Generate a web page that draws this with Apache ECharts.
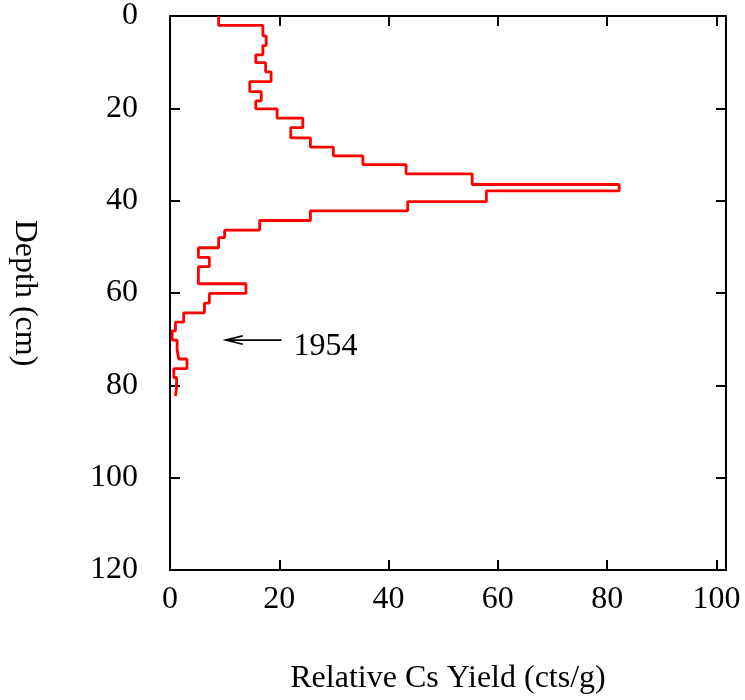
<!DOCTYPE html>
<html>
<head>
<meta charset="utf-8">
<script src="https://cdn.jsdelivr.net/npm/echarts@6/dist/echarts.min.js"></script>
<style>html,body{margin:0;padding:0;background:#fff}#c{width:745px;height:700px}</style>
</head>
<body>
<div id="c"></div>
<script>
// Depth boundaries of each sample interval (cm)
const depthEdges = [0, 2.05, 4.3, 6.4, 8.4, 10.1, 12.1, 14.2, 16.4, 18.4, 20.1, 22.1, 24.2, 26.4, 28.4, 30.3, 32.2, 34.2, 36.5, 37.9, 40.2, 42.2, 44.3, 46.4, 48.0, 50.2, 52.3, 54.3, 56.1, 58.0, 60.1, 62.2, 64.3, 66.3, 68.2, 70.2, 72.3, 74.3, 76.4, 78.3, 80.5, 82.3];
// Relative Cs yield (cts/g) for each interval
const csYield = [8.9, 17.0, 17.6, 17.0, 15.7, 17.5, 18.5, 14.6, 16.7, 15.7, 19.6, 24.3, 22.1, 25.7, 29.9, 35.3, 43.2, 55.3, 82.2, 57.9, 43.5, 25.7, 16.4, 10.0, 8.9, 5.2, 7.2, 5.2, 5.2, 13.9, 7.2, 6.3, 2.5, 1.0, 0.4, 1.3, 1.6, 3.1, 0.7, 1.2, 1.0];
// Axis ticks
const xTicks = [0, 20, 40, 60, 80, 100];
const yTicks = [0, 20, 40, 60, 80, 100, 120];
// Annotation
const annotLabel = '1954';
const arrowFrom = [20.4, 70.2];
const arrowTo = [10.2, 70.2];
const labelAt = [22.6, 71.7];

const stepData = [];
for (let i = 0; i < csYield.length; i++) {
  stepData.push([csYield[i], depthEdges[i]]);
  stepData.push([csYield[i], depthEdges[i + 1]]);
}

const font = 'Liberation Serif';
const fs = 32;
const chart = echarts.init(document.getElementById('c'), null, {renderer: 'canvas'});
const mkLine = () => ({show: true, onZero: false, lineStyle: {color: '#000', width: 2}});
const mkTick = () => ({show: true, inside: true, length: 10, lineStyle: {color: '#000', width: 2}});
const xFmt = v => (xTicks.indexOf(v) >= 0 ? String(v) : '');
const yFmt = v => (yTicks.indexOf(v) >= 0 ? String(v) : '');
chart.setOption({
  animation: false,
  backgroundColor: '#fff',
  grid: {left: 168, right: 19, top: 12, bottom: 125},
  xAxis: [{
    type: 'value', min: 0, max: 101.75, interval: 20, position: 'bottom',
    name: 'Relative Cs Yield (cts/g)', nameLocation: 'middle', nameGap: 93,
    nameTextStyle: {fontFamily: font, fontSize: fs, color: '#000'},
    axisLine: mkLine(), axisTick: mkTick(), splitLine: {show: false},
    axisLabel: {formatter: xFmt, fontFamily: font, fontSize: fs, color: '#000', margin: 14}
  }, {
    type: 'value', min: 0, max: 101.75, interval: 20, position: 'top',
    axisLine: mkLine(), axisTick: mkTick(), splitLine: {show: false},
    axisLabel: {show: false}
  }],
  yAxis: [{
    type: 'value', inverse: true, min: 0, max: 120, interval: 20, position: 'left',
    name: 'Depth (cm)', nameLocation: 'middle', nameGap: 130, nameRotate: -90,
    nameTextStyle: {fontFamily: font, fontSize: fs, color: '#000'},
    axisLine: mkLine(), axisTick: mkTick(), splitLine: {show: false},
    axisLabel: {formatter: yFmt, fontFamily: font, fontSize: fs, color: '#000', margin: 32, padding: [4, 0, 0, 0]}
  }, {
    type: 'value', inverse: true, min: 0, max: 120, interval: 20, position: 'right',
    axisLine: mkLine(), axisTick: mkTick(), splitLine: {show: false},
    axisLabel: {show: false}
  }],
  series: [{
    type: 'line',
    data: stepData,
    showSymbol: false,
    symbol: 'none',
    lineStyle: {color: '#ff0000', width: 2.8},
    emphasis: {disabled: true}
  }, {
    type: 'custom',
    silent: true,
    data: [[arrowFrom[0], arrowFrom[1], arrowTo[0], arrowTo[1], labelAt[0], labelAt[1]]],
    renderItem: function (params, api) {
      const p0 = api.coord([api.value(0), api.value(1)]);
      const p1 = api.coord([api.value(2), api.value(3)]);
      const pt = api.coord([api.value(4), api.value(5)]);
      const dx = p0[0] - p1[0], dy = p0[1] - p1[1];
      const len = Math.sqrt(dx * dx + dy * dy);
      const ux = dx / len, uy = dy / len;
      const hl = 17, hw = 4.2;
      const a = [p1[0] + ux * hl - uy * hw, p1[1] + uy * hl + ux * hw];
      const b = [p1[0] + ux * hl + uy * hw, p1[1] + uy * hl - ux * hw];
      const st = {stroke: '#000', lineWidth: 1.6, fill: null};
      return {
        type: 'group',
        children: [
          {type: 'line', shape: {x1: p0[0], y1: p0[1], x2: p1[0], y2: p1[1]}, style: st},
          {type: 'polyline', shape: {points: [a, p1, b]}, style: st},
          {type: 'text', x: pt[0], y: pt[1], style: {text: annotLabel, fill: '#000',
            font: fs + 'px "' + font + '"', textAlign: 'left', textVerticalAlign: 'middle'}}
        ]
      };
    }
  }]
});
</script>
</body>
</html>
